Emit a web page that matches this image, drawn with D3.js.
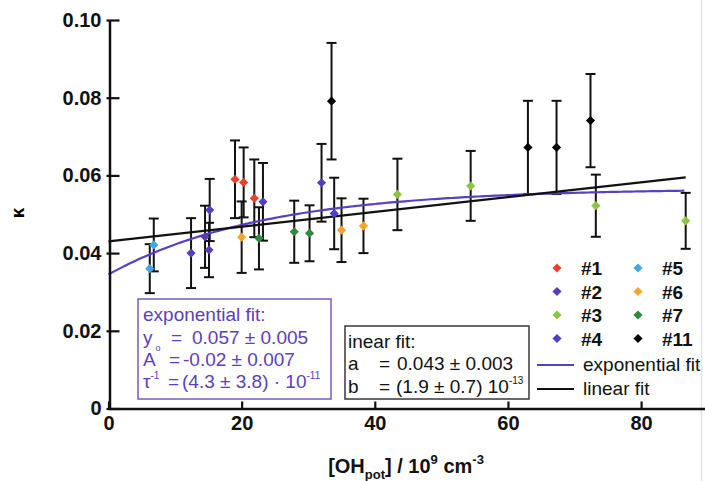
<!DOCTYPE html>
<html>
<head>
<meta charset="utf-8">
<script src="https://cdn.jsdelivr.net/npm/d3@7"></script>
<style>
  html, body { margin: 0; padding: 0; background: #fff; }
  svg { display: block; font-family: "Liberation Sans", Arial, sans-serif; }
</style>
</head>
<body>
<svg id="chart" width="705" height="481"></svg>
<script>
// Measurements of kappa vs. potential OH concentration: [x, kappa, error]
const run1  = [[19.0, 0.0590, 0.010], [20.3, 0.0582, 0.009], [21.9, 0.0541, 0.010]];
const run2  = [[12.4, 0.0400, 0.009], [14.5, 0.0442, 0.008], [15.1, 0.0408, 0.007]];
const run3  = [[43.4, 0.0551, 0.0092], [54.4, 0.0573, 0.009], [73.2, 0.0522, 0.008], [86.7, 0.0483, 0.0072]];
const run4  = [[15.2, 0.0511, 0.008], [23.2, 0.0532, 0.010], [32.0, 0.0581, 0.010], [33.9, 0.0502, 0.0092]];
const run5  = [[6.2, 0.0360, 0.0063], [6.8, 0.0421, 0.0068]];
const run6  = [[20.0, 0.0441, 0.0092], [35.0, 0.0459, 0.0082], [38.3, 0.0470, 0.007]];
const run7  = [[22.6, 0.0438, 0.008], [27.9, 0.0455, 0.008], [30.2, 0.0451, 0.0072]];
const run11 = [[33.5, 0.0791, 0.015], [63.0, 0.0672, 0.012], [67.3, 0.0672, 0.012], [72.4, 0.0741, 0.012]];

const seriesNames  = ["#1", "#2", "#3", "#4", "#5", "#6", "#7", "#11"];
const seriesColors = ["#e8412c", "#5a3cb6", "#8cc63f", "#4f40c2", "#41a8e0", "#f5a52a", "#2f8a3e", "#000000"];
const seriesData   = [run1, run2, run3, run4, run5, run6, run7, run11];

// Fit parameters
const expFit = { y0: 0.0566, A: -0.0221, tauInv: 0.043 };   // y = y0 + A·exp(-x·τ⁻¹)
const linFit = { a: 0.043, b: 0.00019 };                     // y = a + b·x
const fitRange = [0, 86.7];

const xTicks = [0, 20, 40, 60, 80];
const yTicks = [0, 0.02, 0.04, 0.06, 0.08, 0.10];

const svg = d3.select("#chart");
const x = d3.scaleLinear().domain([0, 89.6]).range([108.5, 705]);
const y = d3.scaleLinear().domain([0, 0.1]).range([408.5, 20]);

// faint right frame edge
svg.append("line").attr("x1", 701.5).attr("x2", 701.5).attr("y1", 0).attr("y2", 481)
  .attr("stroke", "#e4e4e4").attr("stroke-width", 1.5);

// error bars
const allPts = [];
seriesData.forEach((arr, i) => arr.forEach(d => allPts.push({ x: d[0], y: d[1], e: d[2], c: seriesColors[i] })));

const bars = svg.append("g").attr("stroke", "#111").attr("stroke-width", 2);
allPts.forEach(p => {
  const cx = x(p.x), top = y(p.y + p.e), bot = y(p.y - p.e);
  bars.append("line").attr("x1", cx).attr("x2", cx).attr("y1", top).attr("y2", bot);
  bars.append("line").attr("x1", cx - 5).attr("x2", cx + 5).attr("y1", top).attr("y2", top);
  bars.append("line").attr("x1", cx - 5).attr("x2", cx + 5).attr("y1", bot).attr("y2", bot);
});

// fit curves
const xs = d3.range(fitRange[0], fitRange[1] + 0.001, 0.5);
const line = d3.line().x(d => x(d[0])).y(d => y(d[1]));
svg.append("path")
  .datum(xs.map(v => [v, expFit.y0 + expFit.A * Math.exp(-v * expFit.tauInv)]))
  .attr("d", line).attr("fill", "none").attr("stroke", "#5a3fc0").attr("stroke-width", 2.2);
svg.append("path")
  .datum(fitRange.map(v => [v, linFit.a + linFit.b * v]))
  .attr("d", line).attr("fill", "none").attr("stroke", "#111").attr("stroke-width", 2.2);

// markers
const diamond = d3.symbol().type(d3.symbolSquare).size(42);
svg.append("g").selectAll("path").data(allPts).join("path")
  .attr("d", diamond)
  .attr("transform", d => `translate(${x(d.x)},${y(d.y)}) rotate(45)`)
  .attr("fill", d => d.c);

// axes
const yAxis = svg.append("g").attr("transform", `translate(${x(0) + 1},0)`)
  .call(d3.axisLeft(y).tickValues(yTicks).tickSizeInner(-10).tickSizeOuter(0).tickPadding(8)
    .tickFormat(d => d === 0 ? "0" : d3.format(".2f")(d)));
const xAxis = svg.append("g").attr("transform", `translate(0,${y(0)})`)
  .call(d3.axisBottom(x).tickValues(xTicks).tickSizeInner(-7).tickSizeOuter(0).tickPadding(7));
[xAxis, yAxis].forEach(g => {
  g.selectAll("path.domain").attr("stroke", "#111").attr("stroke-width", 2.5);
  g.selectAll(".tick line").attr("stroke", "#111").attr("stroke-width", 2.2);
  g.selectAll(".tick text").attr("fill", "#111").style("font-size", "20px").style("font-weight", "bold")
    .style("font-family", "'Liberation Sans', Arial, sans-serif");
});
yAxis.selectAll(".tick line").attr("x1", -3);

// axis titles
svg.append("text").attr("transform", "translate(24,213) rotate(-90)")
  .attr("text-anchor", "middle").style("font-size", "19px").style("font-weight", "bold").text("κ");

const xt = svg.append("text").attr("x", 406).attr("y", 473).attr("text-anchor", "middle")
  .style("font-size", "20px").style("font-weight", "bold").attr("fill", "#111");
xt.append("tspan").text("[OH");
xt.append("tspan").attr("dy", 6).style("font-size", "13px").text("pot");
xt.append("tspan").attr("dy", -6).text("] / 10");
xt.append("tspan").attr("dy", -9).style("font-size", "13px").text("9");
xt.append("tspan").attr("dy", 9).text(" cm");
xt.append("tspan").attr("dy", -9).style("font-size", "13px").text("-3");

// exponential fit box
const expCol = "#5b41b5";
svg.append("rect").attr("x", 138).attr("y", 299).attr("width", 193).attr("height", 100)
  .attr("fill", "#fff").attr("stroke", "#7d63c8").attr("stroke-width", 1.6);
const eg = svg.append("g").attr("fill", expCol).style("font-size", "19px");
eg.append("text").attr("x", 143).attr("y", 321).text("exponential fit:");
eg.append("text").attr("x", 143).attr("y", 344).text("y");
eg.append("text").attr("x", 155.5).attr("y", 351).style("font-size", "9px").text("o");
let t = eg.append("text").attr("y", 344);
t.append("tspan").attr("x", 171).text("=");
t.append("tspan").attr("x", 192).text("0.057 ± 0.005");
t = eg.append("text").attr("y", 366);
t.append("tspan").attr("x", 143).text("A");
t.append("tspan").attr("x", 169).text("=");
t.append("tspan").attr("x", 183).text("-0.02 ± 0.007");
t = eg.append("text").attr("y", 388);
t.append("tspan").attr("x", 143).text("τ");
t.append("tspan").attr("dy", -9).style("font-size", "10px").text("-1");
t.append("tspan").attr("x", 168).attr("dy", 9).text("=");
t.append("tspan").attr("x", 182).text("(4.3 ± 3.8) · 10");
t.append("tspan").attr("dy", -9).style("font-size", "10px").text("-11");

// linear fit box
svg.append("rect").attr("x", 345).attr("y", 326).attr("width", 184).attr("height", 73)
  .attr("fill", "#fff").attr("stroke", "#444").attr("stroke-width", 1.6);
const lg = svg.append("g").attr("fill", "#111").style("font-size", "19px");
lg.append("text").attr("x", 348).attr("y", 348).text("inear fit:");
t = lg.append("text").attr("y", 370);
t.append("tspan").attr("x", 348).text("a");
t.append("tspan").attr("x", 379).text("=");
t.append("tspan").attr("x", 397).text("0.043 ± 0.003");
t = lg.append("text").attr("y", 393);
t.append("tspan").attr("x", 348).text("b");
t.append("tspan").attr("x", 379).text("=");
t.append("tspan").attr("x", 396).text("(1.9 ± 0.7) 10");
t.append("tspan").attr("dy", -9).style("font-size", "10px").text("-13");

// legend
const leg = svg.append("g");
seriesNames.forEach((name, i) => {
  const col = Math.floor(i / 4), row = i % 4;
  const mx = col === 0 ? 557 : 638, ty = 268 + row * 23.5;
  leg.append("path").attr("d", diamond)
    .attr("transform", `translate(${mx},${ty}) rotate(45)`).attr("fill", seriesColors[i]);
  leg.append("text").attr("x", mx + 24).attr("y", ty + 7).style("font-size", "19px")
    .style("font-weight", "bold").attr("fill", "#111").text(name);
});
[["exponential fit", "#5a3fc0", 365], ["linear fit", "#111", 389]].forEach(([lbl, c, ly]) => {
  leg.append("line").attr("x1", 537).attr("x2", 574).attr("y1", ly).attr("y2", ly)
    .attr("stroke", c).attr("stroke-width", 2.2);
  leg.append("text").attr("x", 583).attr("y", ly + 6).style("font-size", "19px")
    .attr("fill", "#111").text(lbl);
});
</script>
</body>
</html>
